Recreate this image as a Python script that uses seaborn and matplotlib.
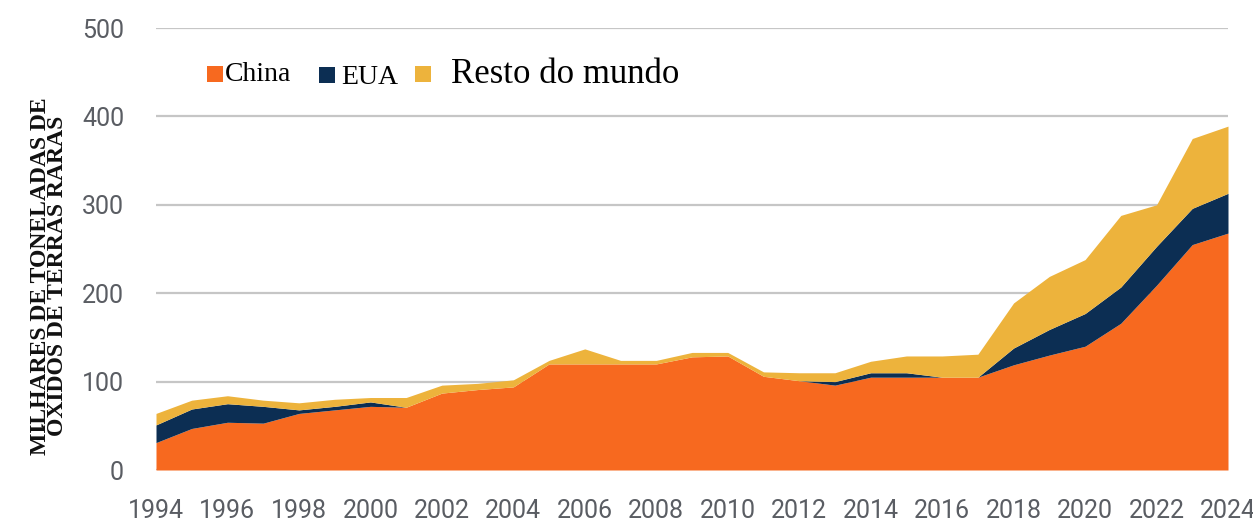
import matplotlib
matplotlib.use("Agg")
import matplotlib.pyplot as plt
from matplotlib.patches import Rectangle
import seaborn as sns

# Rare-earth oxide mine production, thousand tonnes
years = list(range(1994, 2025))
china = [31, 47, 54, 53, 64, 68, 72, 71, 87, 91, 94, 120, 120, 120, 120, 128,
         129, 106, 101, 96, 105, 105, 105, 105, 119, 130, 140, 166, 209, 255, 268]
eua = [20, 22, 21, 19, 4, 4, 5, 0, 0, 0, 0, 0, 0, 0, 0, 0,
       0, 0, 0, 4, 5, 5, 0, 0, 19, 29, 37, 41, 44, 41, 45]
resto = [13, 10, 9, 7, 8, 8, 5, 11, 9, 7, 8, 4, 17, 4, 4, 5,
         4, 5, 9, 10, 13, 19, 24, 26, 51, 60, 61, 81, 47, 79, 76]

series_names = ["China", "EUA", "Resto do mundo"]
y_ticks = [0, 100, 200, 300, 400, 500]
x_ticks = list(range(1994, 2025, 2))

palette = sns.color_palette(["#F7691F", "#0C2E53", "#EDB33C"])

sns.set_theme(style="white")
tick_font = ["Roboto", "DejaVu Sans"]
serif_font = ["Liberation Serif", "DejaVu Serif"]

W, H = 1253, 525
fig = plt.figure(figsize=(W / 100, H / 100), dpi=100)
ax = fig.add_axes([156 / W, 1 - 470 / H, (1228 - 156) / W, 442 / H])

ax.stackplot(years, china, eua, resto, colors=palette, linewidth=0, zorder=2)

ax.set_xlim(1994, 2024)
ax.set_ylim(0, 500)
ax.set_yticks(y_ticks)
ax.set_xticks(x_ticks)
ax.set_yticklabels([str(v) for v in y_ticks])
ax.set_xticklabels([str(v) for v in x_ticks])
ax.grid(axis="y", color="#c6c6c6", linewidth=1.6, zorder=0)
ax.grid(axis="x", visible=False)
ax.set_axisbelow(True)
for s in ax.spines.values():
    s.set_visible(False)
ax.tick_params(axis="y", length=0, pad=23, labelsize=18, labelcolor="#5a5d63")
ax.tick_params(axis="x", length=0, pad=21, labelsize=18, labelcolor="#5a5d63")
for lab in ax.get_xticklabels() + ax.get_yticklabels():
    lab.set_family(tick_font)

fig.text(49 / W, 1 - 276 / H,
         "MILHARES DE TONELADAS DE\nÓXIDOS DE TERRAS RARAS",
         rotation=90, ha="center", va="center", multialignment="center",
         family=serif_font, weight="bold", fontsize=17, linespacing=0.8,
         color="#111111")

# legend: colour square followed by its label
legend_items = [
    (207, 66, 225, 81, 20),
    (319, 67, 341, 84, 20),
    (415, 66, 451, 83, 25),
]
for (sx, sy, tx, ty, fs), name, col in zip(legend_items, series_names, palette):
    fig.add_artist(Rectangle((sx / W, 1 - (sy + 16) / H), 16 / W, 16 / H,
                             transform=fig.transFigure, facecolor=col,
                             edgecolor="none"))
    fig.text(tx / W, 1 - ty / H, name, ha="left", va="baseline",
             family=serif_font, fontsize=fs, color="#000000")

fig.savefig("out.png", dpi=100)
